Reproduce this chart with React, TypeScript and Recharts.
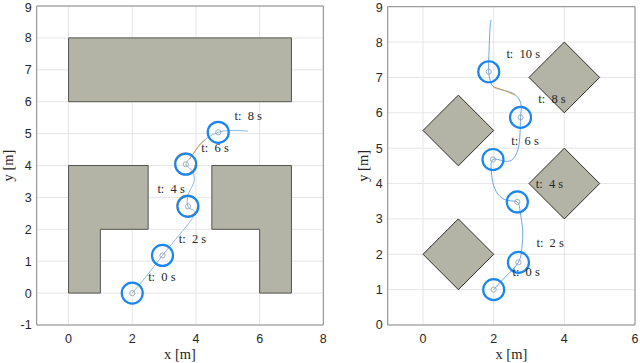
import React from 'react';
import { ComposedChart, XAxis, YAxis, CartesianGrid, Line, Area, Scatter, ReferenceArea } from 'recharts';

// ---- left panel: corridor between walls ----
const leftXTicks = [0, 2, 4, 6, 8];
const leftYTicks = [-1, 0, 1, 2, 3, 4, 5, 6, 7, 8, 9];
const leftTopBlock = { x1: 0, x2: 7, y1: 6, y2: 8 };
const leftWallA = [
  { x: 0, y: 0 }, { x: 1, y: 0 }, { x: 1, y: 2 }, { x: 2.5, y: 2 }, { x: 2.5, y: 4 }, { x: 0, y: 4 }, { x: 0, y: 0 },
];
const leftWallB = [
  { x: 4.5, y: 4 }, { x: 7, y: 4 }, { x: 7, y: 0 }, { x: 6, y: 0 }, { x: 6, y: 2 }, { x: 4.5, y: 2 }, { x: 4.5, y: 4 },
];
const leftWallAFill = [
  { x: 0, band: [0, 4] }, { x: 1, band: [0, 4] }, { x: 1, band: [2, 4] }, { x: 2.5, band: [2, 4] },
];
const leftWallBFill = [
  { x: 4.5, band: [2, 4] }, { x: 6, band: [2, 4] }, { x: 6, band: [0, 4] }, { x: 7, band: [0, 4] },
];
const leftPath = [
  { x: 2, y: 0 }, { x: 2.5, y: 0.6 }, { x: 2.95, y: 1.18 }, { x: 3.5, y: 1.85 }, { x: 3.93, y: 2.42 },
  { x: 3.88, y: 2.62 }, { x: 3.75, y: 2.72 }, { x: 3.76, y: 3.1 }, { x: 3.94, y: 3.5 }, { x: 3.86, y: 3.86 },
  { x: 3.68, y: 4.04 }, { x: 3.85, y: 4.27 }, { x: 4.08, y: 4.6 }, { x: 4.38, y: 4.88 }, { x: 4.7, y: 5.04 },
  { x: 5.1, y: 5.1 }, { x: 5.63, y: 5.08 },
];
const leftRefPath = [{ x: 3.8, y: 4.2 }, { x: 4.08, y: 4.6 }, { x: 4.3, y: 4.82 }];
const leftRobot = [
  { x: 2, y: 0 }, { x: 2.95, y: 1.18 }, { x: 3.75, y: 2.72 }, { x: 3.68, y: 4.04 }, { x: 4.7, y: 5.04 },
];
const leftRefRobot = [{ x: 3.73, y: 2.74 }, { x: 3.66, y: 4.06 }];
const leftLabels = [
  { x: 2.5, y: 0.52, text: 't:  0 s' },
  { x: 3.46, y: 1.69, text: 't:  2 s' },
  { x: 2.79, y: 3.26, text: 't:  4 s' },
  { x: 4.17, y: 4.55, text: 't:  6 s' },
  { x: 5.21, y: 5.54, text: 't:  8 s' },
];

// ---- right panel: diamond obstacles ----
const rightXTicks = [0, 2, 4, 6];
const rightYTicks = [0, 1, 2, 3, 4, 5, 6, 7, 8, 9];
const rightDiamonds = [
  { cx: 1, cy: 5.5 }, { cx: 4, cy: 7 }, { cx: 4, cy: 4 }, { cx: 1, cy: 2 },
];
const rightPath = [
  { x: 2, y: 1 }, { x: 2.35, y: 1.38 }, { x: 2.7, y: 1.77 }, { x: 2.8, y: 2.2 }, { x: 2.82, y: 2.7 },
  { x: 2.75, y: 3.2 }, { x: 2.67, y: 3.48 }, { x: 2.4, y: 3.52 }, { x: 2.12, y: 3.7 }, { x: 1.97, y: 4.05 },
  { x: 1.93, y: 4.4 }, { x: 1.98, y: 4.68 }, { x: 2.27, y: 4.64 }, { x: 2.5, y: 4.66 }, { x: 2.66, y: 4.88 },
  { x: 2.74, y: 5.32 }, { x: 2.76, y: 5.87 }, { x: 2.78, y: 6.2 }, { x: 2.68, y: 6.44 }, { x: 2.45, y: 6.59 },
  { x: 2.08, y: 6.69 }, { x: 1.93, y: 6.83 }, { x: 1.86, y: 7.16 }, { x: 1.87, y: 7.77 }, { x: 1.89, y: 8.3 },
  { x: 1.92, y: 8.62 },
];
const rightRefPath = [{ x: 2.0, y: 6.73 }, { x: 2.3, y: 6.63 }, { x: 2.6, y: 6.5 }];
const rightRobot = [
  { x: 2, y: 1 }, { x: 2.7, y: 1.77 }, { x: 2.67, y: 3.48 }, { x: 1.98, y: 4.68 }, { x: 2.76, y: 5.87 }, { x: 1.86, y: 7.16 },
];
const rightLabels = [
  { x: 2.53, y: 1.5, text: 't:  0 s' },
  { x: 3.21, y: 2.31, text: 't:  2 s' },
  { x: 3.19, y: 3.98, text: 't:  4 s' },
  { x: 2.5, y: 5.2, text: 't:  6 s' },
  { x: 3.26, y: 6.38, text: 't:  8 s' },
  { x: 2.36, y: 7.67, text: 't:  10 s' },
];

const OBSTACLE_FILL = '#b3b3a6';
const OBSTACLE_EDGE = '#55554f';
const ROBOT_BLUE = '#1a86f0';
const GRID = '#e6e6e6';
const BOX = '#8a8a8a';
const SANS = "'Liberation Sans', Arial, sans-serif";
const SERIF = "'Liberation Serif', 'Times New Roman', serif";

const tickStyle = { fontFamily: SANS, fontSize: 12.5, fill: '#262626' };
const axisLabelStyle = { fontFamily: SERIF, fontSize: 14.5, fill: '#262626' };

const RobotMark = (props: any) => (
  <g>
    <circle cx={props.cx} cy={props.cy} r={10.5} fill="none" stroke={ROBOT_BLUE} strokeWidth={2.2} />
    <circle cx={props.cx} cy={props.cy} r={2.6} fill="none" stroke="#98a6b6" strokeWidth={0.9} />
  </g>
);

const RefMark = (props: any) => (
  <circle cx={props.cx} cy={props.cy} r={10.5} fill="none" stroke="#e0a050" strokeWidth={1.3} />
);

const TimeLabel = (props: any) => (
  <text
    x={props.cx}
    y={props.cy}
    dominantBaseline="central"
    style={{ whiteSpace: 'pre', fontFamily: SERIF, fontSize: 12.5, fill: '#262626' }}
  >
    {props.payload?.text ?? props.text}
  </text>
);

const diamondBand = (d: { cx: number; cy: number }) => [
  { x: d.cx - 1, band: [d.cy, d.cy] },
  { x: d.cx, band: [d.cy - 1, d.cy + 1] },
  { x: d.cx + 1, band: [d.cy, d.cy] },
];

export default function App() {
  return (
    <div style={{ position: 'absolute', left: 0, top: 0, width: 640, height: 363, background: '#fff' }}>
      {/* left: walls */}
      <div style={{ position: 'absolute', left: 0, top: 0 }}>
        <ComposedChart width={330} height={363} margin={{ top: 6, right: 6.7, bottom: 0, left: 0 }}>
          <CartesianGrid stroke={GRID} />
          <XAxis
            type="number" dataKey="x" domain={[-1, 8]} ticks={leftXTicks} allowDataOverflow
            height={38} axisLine={false} tickLine={false} tickSize={6} tickMargin={3} tick={tickStyle}
            label={{ value: 'x [m]', position: 'insideBottom', offset: 4, style: axisLabelStyle }}
          />
          <YAxis
            type="number" dataKey="y" domain={[-1, 9]} ticks={leftYTicks} allowDataOverflow
            width={36.7} axisLine={false} tickLine={false} tickSize={3} tickMargin={2} tick={tickStyle}
            label={{ value: 'y [m]', angle: -90, position: 'insideLeft', offset: 8, style: { ...axisLabelStyle, textAnchor: 'middle' } }}
          />
          <ReferenceArea {...leftTopBlock} fill={OBSTACLE_FILL} fillOpacity={1} stroke={OBSTACLE_EDGE} strokeWidth={1} />
          <Area data={leftWallAFill} dataKey="band" type="linear" fill={OBSTACLE_FILL} fillOpacity={1} stroke="none" isAnimationActive={false} />
          <Area data={leftWallBFill} dataKey="band" type="linear" fill={OBSTACLE_FILL} fillOpacity={1} stroke="none" isAnimationActive={false} />
          <Line data={leftWallA} dataKey="y" type="linear" stroke={OBSTACLE_EDGE} strokeWidth={1} dot={false} isAnimationActive={false} />
          <Line data={leftWallB} dataKey="y" type="linear" stroke={OBSTACLE_EDGE} strokeWidth={1} dot={false} isAnimationActive={false} />
          <Line data={leftPath} dataKey="y" type="natural" stroke="#86b9ea" strokeWidth={1} dot={false} isAnimationActive={false} />
          <Line data={leftRefPath} dataKey="y" type="natural" stroke="#d9a24e" strokeWidth={1} dot={false} isAnimationActive={false} />
          <Scatter data={leftRefRobot} shape={RefMark} isAnimationActive={false} />
          <Scatter data={leftRobot} shape={RobotMark} isAnimationActive={false} />
          <Scatter data={leftLabels} shape={TimeLabel} isAnimationActive={false} />
          <ReferenceArea x1={-1} x2={8} y1={-1} y2={9} fill="none" stroke={BOX} strokeWidth={1} />
        </ComposedChart>
      </div>

      {/* right: diamonds */}
      <div style={{ position: 'absolute', left: 330, top: 0 }}>
        <ComposedChart width={310} height={363} margin={{ top: 6.7, right: 5, bottom: 0, left: 0 }}>
          <CartesianGrid stroke={GRID} />
          <XAxis
            type="number" dataKey="x" domain={[-1, 6]} ticks={rightXTicks} allowDataOverflow
            height={38} axisLine={false} tickLine={false} tickSize={6} tickMargin={3} tick={tickStyle}
            label={{ value: 'x [m]', position: 'insideBottom', offset: 4, style: axisLabelStyle }}
          />
          <YAxis
            type="number" dataKey="y" domain={[0, 9]} ticks={rightYTicks} allowDataOverflow
            width={57.7} axisLine={false} tickLine={false} tickSize={3} tickMargin={2} tick={tickStyle}
            label={{ value: 'y [m]', angle: -90, position: 'insideLeft', offset: 33, style: { ...axisLabelStyle, textAnchor: 'middle' } }}
          />
          {rightDiamonds.map((d, i) => (
            <Area
              key={`diamond-${i}`}
              data={diamondBand(d)}
              dataKey="band"
              type="linear"
              fill={OBSTACLE_FILL}
              fillOpacity={1}
              stroke="#2e2e2a"
              strokeWidth={1}
              isAnimationActive={false}
            />
          ))}
          <Line data={rightPath} dataKey="y" type="natural" stroke="#6aa6e2" strokeWidth={1} dot={false} isAnimationActive={false} />
          <Line data={rightRefPath} dataKey="y" type="natural" stroke="#d9a24e" strokeWidth={1} dot={false} isAnimationActive={false} />
          <Scatter data={rightRobot} shape={RobotMark} isAnimationActive={false} />
          <Scatter data={rightLabels} shape={TimeLabel} isAnimationActive={false} />
          <ReferenceArea x1={-1} x2={6} y1={0} y2={9} fill="none" stroke={BOX} strokeWidth={1} />
        </ComposedChart>
      </div>
    </div>
  );
}
